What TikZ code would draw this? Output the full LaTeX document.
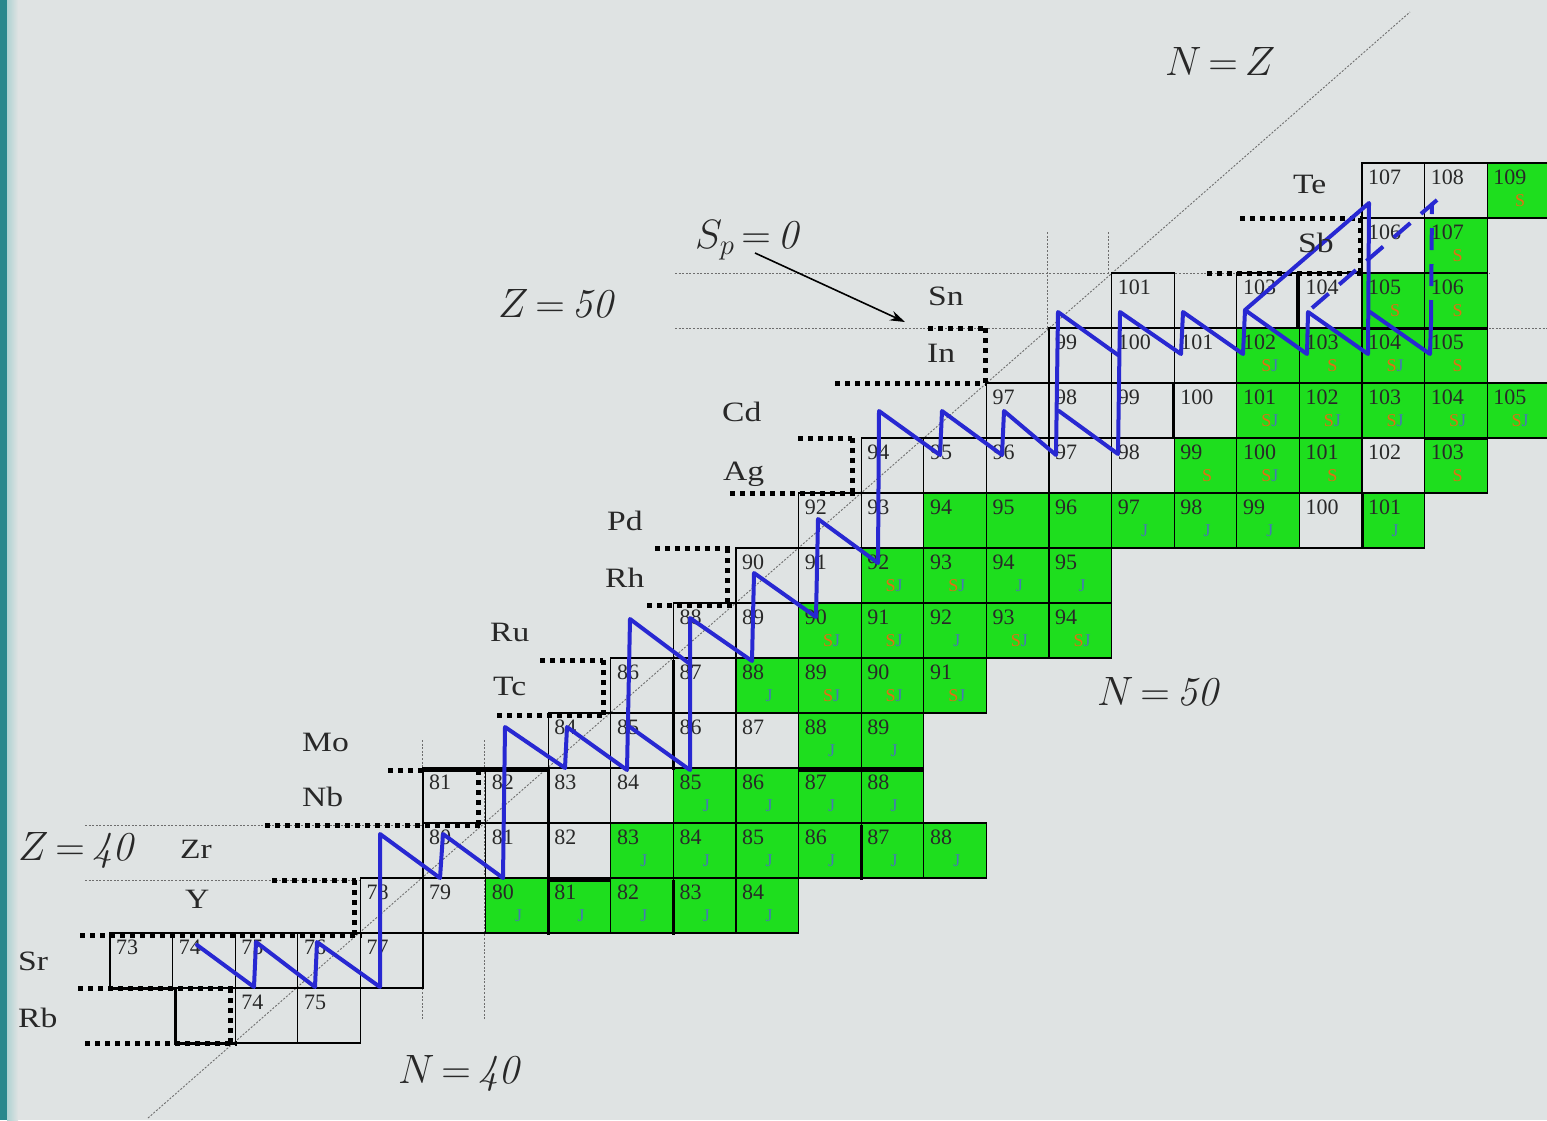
\RequirePackage{fix-cm}
\documentclass[tikz,border=0pt]{standalone}
\usepackage[no-math]{fontspec}
\setmainfont{Liberation Serif}
\usepackage{graphicx}
\usetikzlibrary{arrows.meta}
\definecolor{bgc}{RGB}{223,227,227}
\definecolor{teala}{RGB}{40,135,140}
\definecolor{tealb}{RGB}{175,210,210}
\definecolor{cgreen}{RGB}{30,222,30}
\definecolor{pblue}{RGB}{40,40,210}
\definecolor{sorange}{RGB}{225,110,20}
\definecolor{jblue}{RGB}{70,120,180}
\definecolor{guidec}{RGB}{110,110,110}
\definecolor{inkc}{RGB}{40,40,40}
\newcommand\subS{\textcolor{sorange}{S}}
\newcommand\subJ{\textcolor{jblue}{J}}
\newcommand\subSJ{\textcolor{sorange}{S}\textcolor{jblue}{J}}
\newcommand\subN{}
\newcommand\bigmath[1]{$\thickmuskip=3mu\relax #1$}
\newcommand\mkcell[5]{%
  \pgfmathsetmacro\cx{110+(#2-35)*62.6}%
  \pgfmathsetmacro\cy{988-(#1-37)*55}%
  \node[cellbox,#4] (c#1-#2) at (\cx,\cy) {};%
  \node[numtxt] (n#1-#2) at ([shift={(6,21)}]c#1-#2.north west) {#3};%
  \node[subtxt] (s#1-#2) at ([shift={(33,38)}]c#1-#2.north west) {\csname sub#5\endcsname};%
}
\begin{document}
\begin{tikzpicture}[x=1pt,y=-1pt,
  cellbox/.style={draw=black,line width=1.1pt,minimum width=62.6pt,minimum height=55pt,inner sep=0pt,outer sep=0pt,anchor=north west},
  gcell/.style={fill=cgreen},
  wcell/.style={},
  numtxt/.style={anchor=base west,inner sep=0pt,text=inkc,font=\fontsize{22}{22}\selectfont},
  subtxt/.style={inner sep=0pt,font=\fontsize{18}{18}\selectfont},
  elt/.style={anchor=base west,inner sep=0pt,text=inkc,font=\fontsize{28}{28}\selectfont},
  big/.style={anchor=base west,inner sep=0pt,text=inkc,font=\fontsize{41}{41}\selectfont},
  guide/.style={draw=guidec,line width=0.9pt,dash pattern=on 2pt off 1.6pt},
  drip/.style={draw=black,line width=5pt,dash pattern=on 5pt off 5pt},
  known/.style={draw=black,line width=3pt},
  rpline/.style={draw=pblue,line width=4pt,line join=round,line cap=round},
  rpdash/.style={draw=pblue,line width=4pt,dash pattern=on 22pt off 14pt}
]
\useasboundingbox (0,0) rectangle (1547,1120);
\fill[bgc] (0,0) rectangle (1547,1120);
\fill[teala] (0,0) rectangle (7,1120);
\shade[left color=tealb,right color=bgc] (7,0) rectangle (18,1120);

% guide lines
\draw[guide] (148,1118) -- (1410,12);
\draw[guide] (85,825) -- (422,825);
\draw[guide] (85,880) -- (360,880);
\draw[guide] (675,273) -- (1490,273);
\draw[guide] (675,328) -- (1547,328);
\draw[guide] (422,740) -- (422,1020);
\draw[guide] (484,740) -- (484,1020);
\draw[guide] (1047,232) -- (1047,330);
\draw[guide] (1108,232) -- (1108,275);

% cells
\foreach \z/\n/\a/\f/\s in {
 37/37/74/wcell/N, 37/38/75/wcell/N,
 38/35/73/wcell/N, 38/36/74/wcell/N, 38/37/75/wcell/N, 38/38/76/wcell/N, 38/39/77/wcell/N,
 39/39/78/wcell/N, 39/40/79/wcell/N, 39/41/80/gcell/J, 39/42/81/gcell/J, 39/43/82/gcell/J, 39/44/83/gcell/J, 39/45/84/gcell/J,
 40/40/80/wcell/N, 40/41/81/wcell/N, 40/42/82/wcell/N, 40/43/83/gcell/J, 40/44/84/gcell/J, 40/45/85/gcell/J, 40/46/86/gcell/J, 40/47/87/gcell/J, 40/48/88/gcell/J,
 41/40/81/wcell/N, 41/41/82/wcell/N, 41/42/83/wcell/N, 41/43/84/wcell/N, 41/44/85/gcell/J, 41/45/86/gcell/J, 41/46/87/gcell/J, 41/47/88/gcell/J,
 42/42/84/wcell/N, 42/43/85/wcell/N, 42/44/86/wcell/N, 42/45/87/wcell/N, 42/46/88/gcell/J, 42/47/89/gcell/J,
 43/43/86/wcell/N, 43/44/87/wcell/N, 43/45/88/gcell/J, 43/46/89/gcell/SJ, 43/47/90/gcell/SJ, 43/48/91/gcell/SJ,
 44/44/88/wcell/N, 44/45/89/wcell/N, 44/46/90/gcell/SJ, 44/47/91/gcell/SJ, 44/48/92/gcell/J, 44/49/93/gcell/SJ, 44/50/94/gcell/SJ,
 45/45/90/wcell/N, 45/46/91/wcell/N, 45/47/92/gcell/SJ, 45/48/93/gcell/SJ, 45/49/94/gcell/J, 45/50/95/gcell/J,
 46/46/92/wcell/N, 46/47/93/wcell/N, 46/48/94/gcell/N, 46/49/95/gcell/N, 46/50/96/gcell/N, 46/51/97/gcell/J, 46/52/98/gcell/J, 46/53/99/gcell/J, 46/54/100/wcell/N, 46/55/101/gcell/J,
 47/47/94/wcell/N, 47/48/95/wcell/N, 47/49/96/wcell/N, 47/50/97/wcell/N, 47/51/98/wcell/N, 47/52/99/gcell/S, 47/53/100/gcell/SJ, 47/54/101/gcell/S, 47/55/102/wcell/N, 47/56/103/gcell/S,
 48/49/97/wcell/N, 48/50/98/wcell/N, 48/51/99/wcell/N, 48/52/100/wcell/N, 48/53/101/gcell/SJ, 48/54/102/gcell/SJ, 48/55/103/gcell/SJ, 48/56/104/gcell/SJ, 48/57/105/gcell/SJ,
 49/50/99/wcell/N, 49/51/100/wcell/N, 49/52/101/wcell/N, 49/53/102/gcell/SJ, 49/54/103/gcell/S, 49/55/104/gcell/SJ, 49/56/105/gcell/S,
 50/51/101/wcell/N, 50/53/103/wcell/N, 50/54/104/wcell/N, 50/55/105/gcell/S, 50/56/106/gcell/S,
 51/55/106/wcell/N, 51/56/107/gcell/S,
 52/55/107/wcell/N, 52/56/108/wcell/N, 52/57/109/gcell/S}
 {\mkcell{\z}{\n}{\a}{\f}{\s}}

% proton drip line (S_p = 0)
\draw[drip] (85,1043) -- (237,1043);
\draw[drip] (230,988) -- (230,1043);
\draw[drip] (78,988) -- (237,988);
\draw[drip] (80,935) -- (362,935);
\draw[drip] (354,880) -- (354,935);
\draw[drip] (272,880) -- (356,880);
\draw[drip] (265,825) -- (480,825);
\draw[drip] (478,770) -- (478,825);
\draw[drip] (388,770) -- (425,770);
\draw[drip] (497,715) -- (607,715);
\draw[drip] (603,660) -- (603,715);
\draw[drip] (540,660) -- (603,660);
\draw[drip] (647,605) -- (735,605);
\draw[drip] (727,548) -- (727,605);
\draw[drip] (655,548) -- (730,548);
\draw[drip] (730,493) -- (860,493);
\draw[drip] (852,438) -- (852,493);
\draw[drip] (798,438) -- (852,438);
\draw[drip] (835,383) -- (987,383);
\draw[drip] (985,328) -- (985,383);
\draw[drip] (928,328) -- (985,328);
\draw[drip] (1207,273) -- (1362,273);
\draw[drip] (1360,218) -- (1360,273);
\draw[drip] (1240,218) -- (1363,218);

% thick borders
\draw[known] (110,988) -- (175,988);
\draw[known] (175,988) -- (175,1043) -- (237,1043);
\draw[known] (422,770) -- (548,770) -- (548,880) -- (611,880);
\draw[known] (548,880) -- (548,935);
\draw[known] (673,880) -- (673,935);
\draw[known] (673,660) -- (673,770);
\draw[known] (861,825) -- (861,880);
\draw[known] (798,770) -- (923,770);
\draw[known] (1173,383) -- (1173,438);
\draw[known] (1425,438) -- (1488,438);
\draw[known] (1297,273) -- (1297,328);
\draw[known] (1362,328) -- (1488,328);
\draw[known] (1362,493) -- (1362,548);

% rp-process path
\draw[rpline] (197,945) -- (254,987) -- (256,942) -- (315,987) -- (317,942) -- (380,987) -- (380,834) -- (440,878) -- (443,834) -- (503,878) -- (505,727) -- (565,768) -- (567,727) -- (627,770) -- (630,619) -- (690,664);
\draw[rpline] (630,727) -- (690,770) -- (690,618) -- (752,661) -- (754,573) -- (816,617) -- (818,519) -- (878,563) -- (879,411) -- (940,455) -- (942,411) -- (1002,455) -- (1004,411) -- (1056,455) -- (1058,312) -- (1118,355);
\draw[rpline] (1059,411) -- (1118,454) -- (1120,312) -- (1181,354) -- (1183,312) -- (1243,354) -- (1245,310) -- (1307,354) -- (1308,312) -- (1368,354) -- (1369,203) -- (1245,310);
\draw[rpline] (1370,312) -- (1430,354) -- (1431,322);
\draw[rpdash] (1431,322) -- (1432,203);
\draw[rpdash] (1312,308) -- (1437,200);

% element labels
\foreach \t/\x/\y in {Te/1293/193, Sb/1298/252, Sn/928/305, In/927/362, Cd/722/421, Ag/723/480, Pd/607/530, Rh/605/587, Ru/490/641, Tc/493/695, Mo/302/751, Nb/302/806, Zr/180/858, Y/185/908, Sr/18/970, Rb/18/1027}
  {\node[elt] (e\t) at (\x,\y) {\scalebox{1.2}[1]{\t}};}

% big labels
\node[big] (lnz) at (1165,75) {\bigmath{N=Z}};
\node[big] (lsp) at (695,248) {\bigmath{S_p=\mathit{0}}};
\node[big] (lz50) at (498,317) {\bigmath{Z=\mathit{50}}};
\node[big] (lz40) at (18,860) {\bigmath{Z=\mathit{40}}};
\node[big] (ln40) at (398,1083) {\bigmath{N=\mathit{40}}};
\node[big] (ln50) at (1097,705) {\bigmath{N=\mathit{50}}};

\coordinate (spa) at (755,253);
\coordinate (spb) at (905,322);
\draw[line width=1.6pt,-{Stealth[length=15pt,width=10pt]}] (spa) -- (spb);
\end{tikzpicture}
\end{document}
